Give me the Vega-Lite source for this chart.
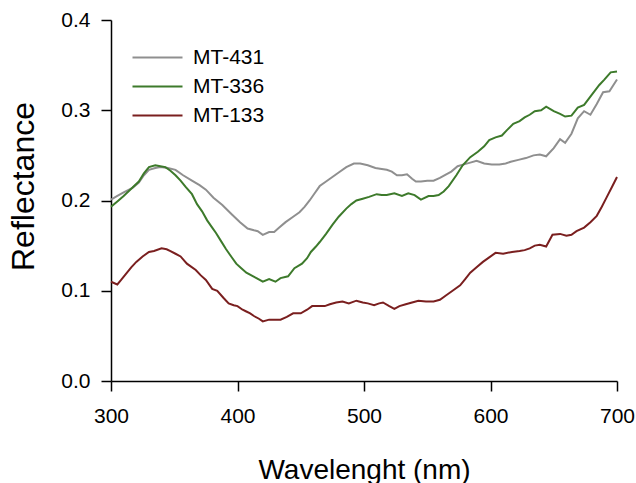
{
  "$schema": "https://vega.github.io/schema/vega-lite/v6.json",
  "width": 506,
  "height": 361,
  "autosize": {"type": "none"},
  "padding": {"left": 111, "top": 20, "right": 19, "bottom": 102},
  "background": "white",
  "config": {
    "view": {"stroke": null},
    "font": "Liberation Sans",
    "axis": {
      "domainColor": "black", "domainWidth": 1.5,
      "tickColor": "black", "tickWidth": 1.5, "tickSize": 10,
      "labelFont": "Liberation Sans", "labelFontSize": 21, "labelColor": "black",
      "titleFont": "Liberation Sans", "titleFontSize": 28, "titleFontWeight": "normal", "titleColor": "black",
      "grid": false
    }
  },
  "datasets": {
    "spectra": [
      {"s":"MT-431","w":300,"r":0.201},{"s":"MT-431","w":305,"r":0.205},{"s":"MT-431","w":310,"r":0.209},{"s":"MT-431","w":317,"r":0.214},{"s":"MT-431","w":322,"r":0.220},{"s":"MT-431","w":326,"r":0.228},{"s":"MT-431","w":330,"r":0.234},{"s":"MT-431","w":335,"r":0.236},{"s":"MT-431","w":339,"r":0.237},{"s":"MT-431","w":345,"r":0.236},{"s":"MT-431","w":351,"r":0.234},{"s":"MT-431","w":357,"r":0.228},{"s":"MT-431","w":364,"r":0.222},{"s":"MT-431","w":370,"r":0.217},{"s":"MT-431","w":375,"r":0.212},{"s":"MT-431","w":381,"r":0.203},{"s":"MT-431","w":388,"r":0.195},{"s":"MT-431","w":396,"r":0.184},{"s":"MT-431","w":402,"r":0.176},{"s":"MT-431","w":408,"r":0.169},{"s":"MT-431","w":413,"r":0.167},{"s":"MT-431","w":416,"r":0.166},{"s":"MT-431","w":420,"r":0.162},{"s":"MT-431","w":425,"r":0.165},{"s":"MT-431","w":429,"r":0.165},{"s":"MT-431","w":433,"r":0.170},{"s":"MT-431","w":438,"r":0.176},{"s":"MT-431","w":444,"r":0.182},{"s":"MT-431","w":449,"r":0.187},{"s":"MT-431","w":453,"r":0.193},{"s":"MT-431","w":457,"r":0.200},{"s":"MT-431","w":461,"r":0.208},{"s":"MT-431","w":465,"r":0.216},{"s":"MT-431","w":470,"r":0.221},{"s":"MT-431","w":475,"r":0.226},{"s":"MT-431","w":480,"r":0.231},{"s":"MT-431","w":486,"r":0.237},{"s":"MT-431","w":492,"r":0.241},{"s":"MT-431","w":497,"r":0.241},{"s":"MT-431","w":503,"r":0.239},{"s":"MT-431","w":509,"r":0.236},{"s":"MT-431","w":514,"r":0.235},{"s":"MT-431","w":518,"r":0.234},{"s":"MT-431","w":522,"r":0.232},{"s":"MT-431","w":526,"r":0.228},{"s":"MT-431","w":530,"r":0.228},{"s":"MT-431","w":534,"r":0.229},{"s":"MT-431","w":538,"r":0.224},{"s":"MT-431","w":541,"r":0.221},{"s":"MT-431","w":545,"r":0.221},{"s":"MT-431","w":550,"r":0.222},{"s":"MT-431","w":555,"r":0.222},{"s":"MT-431","w":560,"r":0.225},{"s":"MT-431","w":565,"r":0.229},{"s":"MT-431","w":569,"r":0.232},{"s":"MT-431","w":574,"r":0.238},{"s":"MT-431","w":579,"r":0.240},{"s":"MT-431","w":584,"r":0.242},{"s":"MT-431","w":589,"r":0.244},{"s":"MT-431","w":595,"r":0.241},{"s":"MT-431","w":601,"r":0.240},{"s":"MT-431","w":607,"r":0.240},{"s":"MT-431","w":612,"r":0.241},{"s":"MT-431","w":616,"r":0.243},{"s":"MT-431","w":622,"r":0.245},{"s":"MT-431","w":628,"r":0.247},{"s":"MT-431","w":634,"r":0.250},{"s":"MT-431","w":639,"r":0.251},{"s":"MT-431","w":644,"r":0.249},{"s":"MT-431","w":650,"r":0.258},{"s":"MT-431","w":655,"r":0.268},{"s":"MT-431","w":659,"r":0.264},{"s":"MT-431","w":664,"r":0.274},{"s":"MT-431","w":669,"r":0.291},{"s":"MT-431","w":674,"r":0.299},{"s":"MT-431","w":679,"r":0.295},{"s":"MT-431","w":684,"r":0.307},{"s":"MT-431","w":689,"r":0.320},{"s":"MT-431","w":694,"r":0.321},{"s":"MT-431","w":700,"r":0.334},
      {"s":"MT-336","w":300,"r":0.193},{"s":"MT-336","w":305,"r":0.199},{"s":"MT-336","w":310,"r":0.205},{"s":"MT-336","w":316,"r":0.213},{"s":"MT-336","w":322,"r":0.221},{"s":"MT-336","w":326,"r":0.230},{"s":"MT-336","w":330,"r":0.237},{"s":"MT-336","w":335,"r":0.239},{"s":"MT-336","w":339,"r":0.238},{"s":"MT-336","w":343,"r":0.237},{"s":"MT-336","w":347,"r":0.233},{"s":"MT-336","w":351,"r":0.228},{"s":"MT-336","w":355,"r":0.222},{"s":"MT-336","w":359,"r":0.215},{"s":"MT-336","w":364,"r":0.207},{"s":"MT-336","w":368,"r":0.196},{"s":"MT-336","w":372,"r":0.188},{"s":"MT-336","w":376,"r":0.178},{"s":"MT-336","w":380,"r":0.170},{"s":"MT-336","w":383,"r":0.164},{"s":"MT-336","w":387,"r":0.155},{"s":"MT-336","w":391,"r":0.146},{"s":"MT-336","w":395,"r":0.138},{"s":"MT-336","w":399,"r":0.130},{"s":"MT-336","w":403,"r":0.125},{"s":"MT-336","w":407,"r":0.120},{"s":"MT-336","w":411,"r":0.117},{"s":"MT-336","w":415,"r":0.114},{"s":"MT-336","w":420,"r":0.110},{"s":"MT-336","w":425,"r":0.113},{"s":"MT-336","w":430,"r":0.110},{"s":"MT-336","w":434,"r":0.114},{"s":"MT-336","w":440,"r":0.116},{"s":"MT-336","w":445,"r":0.125},{"s":"MT-336","w":451,"r":0.130},{"s":"MT-336","w":455,"r":0.136},{"s":"MT-336","w":458,"r":0.143},{"s":"MT-336","w":462,"r":0.149},{"s":"MT-336","w":465,"r":0.154},{"s":"MT-336","w":470,"r":0.163},{"s":"MT-336","w":475,"r":0.173},{"s":"MT-336","w":480,"r":0.182},{"s":"MT-336","w":486,"r":0.191},{"s":"MT-336","w":490,"r":0.196},{"s":"MT-336","w":494,"r":0.200},{"s":"MT-336","w":499,"r":0.202},{"s":"MT-336","w":504,"r":0.204},{"s":"MT-336","w":510,"r":0.207},{"s":"MT-336","w":514,"r":0.206},{"s":"MT-336","w":518,"r":0.206},{"s":"MT-336","w":524,"r":0.208},{"s":"MT-336","w":530,"r":0.205},{"s":"MT-336","w":535,"r":0.208},{"s":"MT-336","w":540,"r":0.206},{"s":"MT-336","w":545,"r":0.201},{"s":"MT-336","w":551,"r":0.205},{"s":"MT-336","w":555,"r":0.205},{"s":"MT-336","w":559,"r":0.206},{"s":"MT-336","w":563,"r":0.210},{"s":"MT-336","w":567,"r":0.216},{"s":"MT-336","w":573,"r":0.228},{"s":"MT-336","w":578,"r":0.239},{"s":"MT-336","w":584,"r":0.248},{"s":"MT-336","w":590,"r":0.254},{"s":"MT-336","w":595,"r":0.260},{"s":"MT-336","w":599,"r":0.267},{"s":"MT-336","w":604,"r":0.270},{"s":"MT-336","w":609,"r":0.272},{"s":"MT-336","w":613,"r":0.278},{"s":"MT-336","w":618,"r":0.285},{"s":"MT-336","w":623,"r":0.288},{"s":"MT-336","w":627,"r":0.292},{"s":"MT-336","w":631,"r":0.295},{"s":"MT-336","w":635,"r":0.299},{"s":"MT-336","w":640,"r":0.300},{"s":"MT-336","w":644,"r":0.304},{"s":"MT-336","w":650,"r":0.299},{"s":"MT-336","w":655,"r":0.296},{"s":"MT-336","w":659,"r":0.293},{"s":"MT-336","w":664,"r":0.294},{"s":"MT-336","w":669,"r":0.303},{"s":"MT-336","w":674,"r":0.306},{"s":"MT-336","w":680,"r":0.317},{"s":"MT-336","w":686,"r":0.328},{"s":"MT-336","w":690,"r":0.334},{"s":"MT-336","w":695,"r":0.342},{"s":"MT-336","w":700,"r":0.343},
      {"s":"MT-133","w":300,"r":0.110},{"s":"MT-133","w":305,"r":0.107},{"s":"MT-133","w":308,"r":0.112},{"s":"MT-133","w":312,"r":0.119},{"s":"MT-133","w":316,"r":0.126},{"s":"MT-133","w":320,"r":0.132},{"s":"MT-133","w":325,"r":0.138},{"s":"MT-133","w":330,"r":0.143},{"s":"MT-133","w":334,"r":0.144},{"s":"MT-133","w":340,"r":0.147},{"s":"MT-133","w":344,"r":0.146},{"s":"MT-133","w":347,"r":0.144},{"s":"MT-133","w":351,"r":0.141},{"s":"MT-133","w":355,"r":0.138},{"s":"MT-133","w":360,"r":0.130},{"s":"MT-133","w":363,"r":0.127},{"s":"MT-133","w":367,"r":0.123},{"s":"MT-133","w":371,"r":0.117},{"s":"MT-133","w":375,"r":0.112},{"s":"MT-133","w":380,"r":0.102},{"s":"MT-133","w":384,"r":0.100},{"s":"MT-133","w":389,"r":0.092},{"s":"MT-133","w":393,"r":0.086},{"s":"MT-133","w":397,"r":0.084},{"s":"MT-133","w":400,"r":0.083},{"s":"MT-133","w":404,"r":0.079},{"s":"MT-133","w":407,"r":0.077},{"s":"MT-133","w":410,"r":0.075},{"s":"MT-133","w":413,"r":0.072},{"s":"MT-133","w":417,"r":0.069},{"s":"MT-133","w":420,"r":0.066},{"s":"MT-133","w":425,"r":0.068},{"s":"MT-133","w":430,"r":0.068},{"s":"MT-133","w":434,"r":0.068},{"s":"MT-133","w":439,"r":0.071},{"s":"MT-133","w":444,"r":0.075},{"s":"MT-133","w":450,"r":0.075},{"s":"MT-133","w":455,"r":0.079},{"s":"MT-133","w":459,"r":0.083},{"s":"MT-133","w":464,"r":0.083},{"s":"MT-133","w":469,"r":0.083},{"s":"MT-133","w":473,"r":0.085},{"s":"MT-133","w":478,"r":0.087},{"s":"MT-133","w":483,"r":0.088},{"s":"MT-133","w":488,"r":0.086},{"s":"MT-133","w":494,"r":0.089},{"s":"MT-133","w":499,"r":0.087},{"s":"MT-133","w":503,"r":0.086},{"s":"MT-133","w":508,"r":0.084},{"s":"MT-133","w":512,"r":0.086},{"s":"MT-133","w":515,"r":0.087},{"s":"MT-133","w":520,"r":0.083},{"s":"MT-133","w":524,"r":0.080},{"s":"MT-133","w":528,"r":0.083},{"s":"MT-133","w":533,"r":0.085},{"s":"MT-133","w":538,"r":0.087},{"s":"MT-133","w":543,"r":0.089},{"s":"MT-133","w":549,"r":0.088},{"s":"MT-133","w":555,"r":0.088},{"s":"MT-133","w":560,"r":0.090},{"s":"MT-133","w":565,"r":0.095},{"s":"MT-133","w":570,"r":0.100},{"s":"MT-133","w":576,"r":0.106},{"s":"MT-133","w":580,"r":0.113},{"s":"MT-133","w":584,"r":0.120},{"s":"MT-133","w":589,"r":0.126},{"s":"MT-133","w":594,"r":0.132},{"s":"MT-133","w":599,"r":0.137},{"s":"MT-133","w":604,"r":0.142},{"s":"MT-133","w":610,"r":0.141},{"s":"MT-133","w":617,"r":0.143},{"s":"MT-133","w":623,"r":0.144},{"s":"MT-133","w":627,"r":0.145},{"s":"MT-133","w":631,"r":0.147},{"s":"MT-133","w":635,"r":0.150},{"s":"MT-133","w":639,"r":0.151},{"s":"MT-133","w":644,"r":0.149},{"s":"MT-133","w":649,"r":0.162},{"s":"MT-133","w":655,"r":0.163},{"s":"MT-133","w":660,"r":0.161},{"s":"MT-133","w":664,"r":0.162},{"s":"MT-133","w":668,"r":0.166},{"s":"MT-133","w":674,"r":0.170},{"s":"MT-133","w":679,"r":0.176},{"s":"MT-133","w":684,"r":0.183},{"s":"MT-133","w":688,"r":0.193},{"s":"MT-133","w":692,"r":0.204},{"s":"MT-133","w":696,"r":0.215},{"s":"MT-133","w":700,"r":0.226}
    ]
  },
  "data": {"name": "spectra"},
  "mark": {"type": "line", "strokeWidth": 2},
  "encoding": {
    "x": {
      "field": "w", "type": "quantitative",
      "scale": {"domain": [300, 700], "nice": false, "zero": false},
      "axis": {"title": "Wavelenght (nm)", "values": [300, 400, 500, 600, 700], "labelPadding": 14, "titleBaseline": "alphabetic", "titleY": 97, "labelFlush": false}
    },
    "y": {
      "field": "r", "type": "quantitative",
      "scale": {"domain": [0, 0.4], "nice": false},
      "axis": {"title": "Reflectance", "values": [0, 0.1, 0.2, 0.3, 0.4], "format": ".1f", "labelPadding": 11, "titleBaseline": "alphabetic", "titleX": -78, "titleY": 166, "titleAngle": -90, "titleFontSize": 32, "labelFlush": false}
    },
    "color": {
      "field": "s", "type": "nominal",
      "scale": {"domain": ["MT-431", "MT-336", "MT-133"], "range": ["#8f8f8f", "#3d7a2b", "#7a1f1f"]},
      "legend": {
        "title": null, "orient": "none", "legendX": 33, "legendY": 24,
        "symbolType": "M-2,0H2", "symbolSize": 625, "symbolStrokeWidth": 2,
        "labelFont": "Liberation Sans", "labelFontSize": 21, "labelColor": "black",
        "labelOffset": 22, "rowPadding": 5, "padding": 0
      }
    }
  }
}
